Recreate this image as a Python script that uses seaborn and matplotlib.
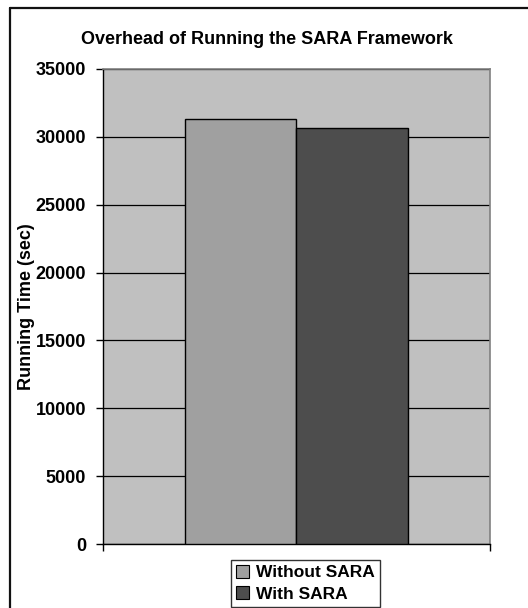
import matplotlib
matplotlib.use("Agg")
import matplotlib.pyplot as plt
import seaborn as sns
import pandas as pd
from matplotlib.lines import Line2D

categories = [""]
series = ["Without SARA", "With SARA"]
values_without = [31300]
values_with = [30650]
colors = ["#A0A0A0", "#4D4D4D"]
yticks = [0, 5000, 10000, 15000, 20000, 25000, 30000, 35000]

df = pd.DataFrame({
    "cat": categories * 2,
    "series": [series[0]] * len(categories) + [series[1]] * len(categories),
    "value": values_without + values_with,
})

sns.set_style("white")
plt.rcParams["font.family"] = ["Liberation Sans", "DejaVu Sans"]
plt.rcParams["font.weight"] = "bold"
for k in ["text.color", "axes.labelcolor", "xtick.color", "ytick.color"]:
    plt.rcParams[k] = "black"

fig = plt.figure(figsize=(5.28, 6.08), dpi=100)
fig.patch.set_linewidth(0)
ax = fig.add_axes([0.1945, 0.1048, 0.7339, 0.7822])
ax.set_facecolor("#C0C0C0")

sns.barplot(data=df, x="cat", y="value", hue="series", palette=colors,
            width=0.574, edgecolor="black", linewidth=1.0, ax=ax,
            legend=False, zorder=3)

ax.set_ylim(0, 35000)
ax.set_xlim(-0.5, 0.5)
ax.set_yticks(yticks)
ax.set_yticklabels([str(t) for t in yticks], fontsize=13, fontweight="bold")
ax.set_xticks([-0.5, 0.5])
ax.set_xticklabels(["", ""])
ax.tick_params(axis="y", direction="out", length=5, width=1, color="black", pad=7, left=True)
ax.tick_params(axis="x", direction="out", length=5, width=1, color="black", bottom=True)
ax.yaxis.grid(True, color="black", linewidth=0.9, zorder=1)
ax.set_axisbelow(True)
ax.set_xlabel("")
ax.set_ylabel("Running Time (sec)", fontsize=13, fontweight="bold")
ax.yaxis.set_label_coords(-0.175, 0.5)

fig.text(0.506, 1 - 39.5 / 608, "Overhead of Running the SARA Framework",
         fontsize=13, fontweight="bold", ha="center", va="center")

for s in ["top", "right"]:
    ax.spines[s].set_color("#808080")
    ax.spines[s].set_linewidth(1.2)
for s in ["left", "bottom"]:
    ax.spines[s].set_color("black")
    ax.spines[s].set_linewidth(1.0)

handles = [plt.Rectangle((0, 0), 1, 1, facecolor=c, edgecolor="black", linewidth=0.8)
           for c in colors]
leg = fig.legend(handles, series, loc="upper center",
                 bbox_to_anchor=(0.5786, 0.0938), frameon=True, fancybox=False,
                 handlelength=0.75, handleheight=0.75, handletextpad=0.4,
                 borderpad=0.3, labelspacing=0.35,
                 prop={"size": 12.5, "weight": "bold"})
leg.get_frame().set_edgecolor("black")
leg.get_frame().set_linewidth(1.0)

# outer chart border (left and top visible)
fig.add_artist(Line2D([9.5 / 528, 9.5 / 528], [0, 1 - 7.5 / 608], color="#111111",
                      linewidth=1.6, transform=fig.transFigure))
fig.add_artist(Line2D([9.5 / 528, 1.0], [1 - 7.5 / 608, 1 - 7.5 / 608], color="#111111",
                      linewidth=1.6, transform=fig.transFigure))

fig.savefig("out.png", dpi=100)
